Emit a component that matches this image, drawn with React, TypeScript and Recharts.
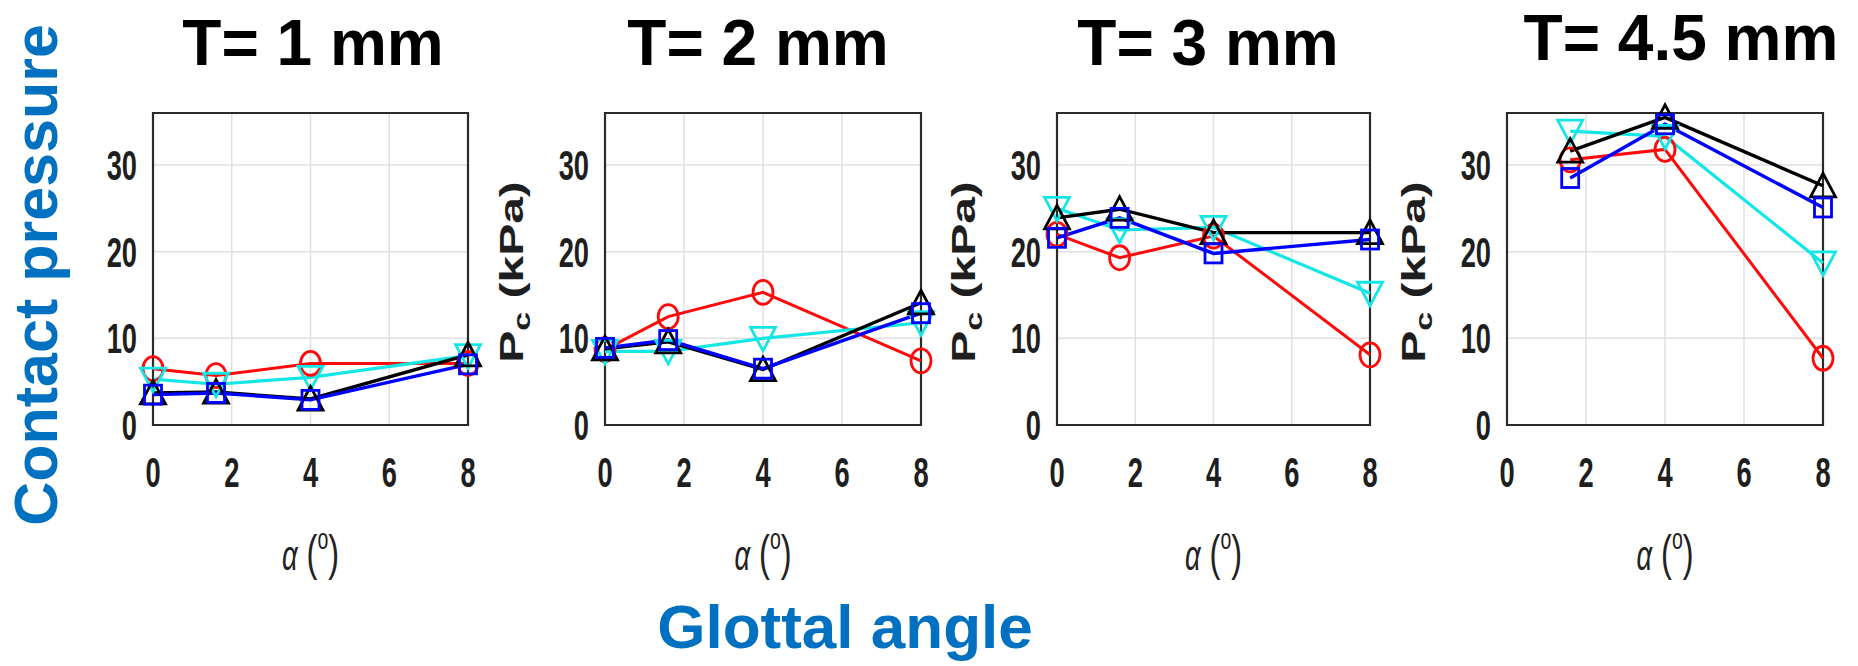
import React from "react"
import { LineChart, Line, XAxis, YAxis, CartesianGrid, ReferenceArea } from "recharts"

// glottal angle alpha (deg)
const alphaAll = [0, 1.6, 4, 8]
const alphaT45 = [1.6, 4, 8]
const titles = ["T= 1 mm", "T= 2 mm", "T= 3 mm", "T= 4.5 mm"]
const xTicks = [0, 2, 4, 6, 8]
const yTicks = [0, 10, 20, 30]

// contact pressure Pc (kPa)
const redT1 = [6.5, 5.7, 7.1, 7.1]
const cyanT1 = [5.3, 4.7, 5.5, 8.0]
const blueT1 = [3.5, 3.7, 2.9, 7.0]
const blackT1 = [3.7, 3.8, 3.0, 8.1]

const redT2 = [8.7, 12.5, 15.3, 7.4]
const cyanT2 = [8.5, 8.5, 10.0, 11.8]
const blueT2 = [8.9, 9.8, 6.5, 12.9]
const blackT2 = [8.8, 9.6, 6.4, 14.1]

const redT3 = [22.0, 19.3, 21.8, 8.1]
const cyanT3 = [25.0, 22.5, 22.8, 15.2]
const blueT3 = [21.6, 23.9, 19.8, 21.4]
const blackT3 = [23.9, 24.9, 22.2, 22.2]

const redT45 = [30.6, 31.8, 7.7]
const cyanT45 = [33.9, 33.3, 18.7]
const blueT45 = [28.5, 34.7, 25.1]
const blackT45 = [31.6, 35.5, 27.6]

const FONT = "'Liberation Sans', Arial, sans-serif"
const BLUE_TXT = "#0070C0"
const PT = 20      // plot top inside chart
const PH = 312     // plot height
const YW = 130     // y axis width
const SQ = 0.65    // horizontal squeeze of the original figure

const panels = [
  { title: titles[0], xs: alphaAll, red: redT1, cyan: cyanT1, blue: blueT1, black: blackT1, left: 153, width: 315, pc: false, titleX: 313, titleY: 65 },
  { title: titles[1], xs: alphaAll, red: redT2, cyan: cyanT2, blue: blueT2, black: blackT2, left: 605, width: 316, pc: true, titleX: 758, titleY: 65 },
  { title: titles[2], xs: alphaAll, red: redT3, cyan: cyanT3, blue: blueT3, black: blackT3, left: 1057, width: 313, pc: true, titleX: 1208, titleY: 65 },
  { title: titles[3], xs: alphaT45, red: redT45, cyan: cyanT45, blue: blueT45, black: blackT45, left: 1507, width: 316, pc: true, titleX: 1681, titleY: 60 },
]

const circleDot = (color: string) => (p: any) => (
  <ellipse key={`c-${p.index}`} cx={p.cx} cy={p.cy} rx={10} ry={12} fill="none" stroke={color} strokeWidth={2.8} />
)
const squareDot = (color: string) => (p: any) => (
  <rect key={`s-${p.index}`} x={p.cx - 8.5} y={p.cy - 9.5} width={17} height={19} fill="none" stroke={color} strokeWidth={2.8} />
)
const upDot = (color: string) => (p: any) => (
  <polygon key={`u-${p.index}`} points={`${p.cx},${p.cy - 12.5} ${p.cx - 12.5},${p.cy + 11} ${p.cx + 12.5},${p.cy + 11}`} fill="none" stroke={color} strokeWidth={2.8} />
)
const downDot = (color: string) => (p: any) => (
  <polygon key={`d-${p.index}`} points={`${p.cx},${p.cy + 12.5} ${p.cx - 12.5},${p.cy - 11} ${p.cx + 12.5},${p.cy - 11}`} fill="none" stroke={color} strokeWidth={2.8} />
)

const XTick = (p: any) => (
  <text transform={`translate(${p.x},${PT + PH + 62}) scale(${SQ},1)`} textAnchor="middle"
    fontFamily={FONT} fontWeight="bold" fontSize={42} fill="#1e1e1e">{p.payload.value}</text>
)
const YTick = (p: any) => (
  <text transform={`translate(${YW - 16},${p.y + 15}) scale(${SQ},1)`} textAnchor="end"
    fontFamily={FONT} fontWeight="bold" fontSize={42} fill="#1e1e1e">{p.payload.value}</text>
)

const AlphaLabel = (p: any) => {
  const vb = p.viewBox
  const cx = vb.x + vb.width / 2
  return (
    <text transform={`translate(${cx},${PT + PH + 145}) scale(${SQ},1)`} textAnchor="middle"
      fontFamily={FONT} fontSize={50} fill="#222">
      <tspan fontStyle="italic" fontSize={42}>α</tspan>
      <tspan> (</tspan>
      <tspan fontSize={30} dy={-21}>o</tspan>
      <tspan dy={21}>)</tspan>
    </text>
  )
}

const PcLabel = () => {
  const cy = PT + PH / 2 + 3
  return (
    <text transform={`translate(${YW - 82},${cy}) scale(0.68,1) rotate(-90)`} textAnchor="middle"
      fontFamily={FONT} fontWeight="bold" fontSize={48} fill="#1e1e1e">
      P<tspan fontSize={34} dy={10}>c</tspan><tspan dy={-10}>{"  (kPa)"}</tspan>
    </text>
  )
}

function Panel({ panel }: { panel: typeof panels[number] }) {
  const data = panel.xs.map((a, i) => ({
    alpha: a,
    red: panel.red[i],
    cyan: panel.cyan[i],
    blue: panel.blue[i],
    black: panel.black[i],
  }))
  const W = panel.width + YW + 20
  const H = PT + PH + 170
  return (
    <div style={{ position: "absolute", left: panel.left - YW, top: 113 - PT }}>
      <LineChart width={W} height={H} data={data} margin={{ top: PT, right: 20, bottom: 0, left: 0 }}>
        <CartesianGrid stroke="#e0e0e0" strokeWidth={1.5} />
        <XAxis dataKey="alpha" type="number" domain={[0, 8]} ticks={xTicks} interval={0}
          axisLine={false} tickLine={false} height={170} tick={XTick} label={{ content: AlphaLabel }} />
        <YAxis type="number" domain={[0, 36]} ticks={yTicks} interval={0} width={YW}
          axisLine={false} tickLine={false} tick={YTick}
          label={panel.pc ? { content: PcLabel } : undefined} />
        <ReferenceArea x1={0} x2={8} y1={0} y2={36} fill="none" fillOpacity={0} stroke="#2b2b2b" strokeWidth={2.2} />
        <Line dataKey="red" stroke="#ff0a0a" strokeWidth={3} dot={circleDot("#ff0a0a")} isAnimationActive={false} />
        <Line dataKey="cyan" stroke="#14e6e6" strokeWidth={3.2} dot={downDot("#14e6e6")} isAnimationActive={false} />
        <Line dataKey="black" stroke="#000" strokeWidth={3.4} dot={upDot("#000")} isAnimationActive={false} />
        <Line dataKey="blue" stroke="#0000ff" strokeWidth={3.4} dot={squareDot("#0000ff")} isAnimationActive={false} />
      </LineChart>
    </div>
  )
}

export default function App() {
  return (
    <div style={{ position: "relative", width: 1858, height: 666, background: "#fff", overflow: "hidden" }}>
      <style>{"body{margin:0}"}</style>
      {panels.map((p, i) => <Panel key={i} panel={p} />)}
      <svg width={1858} height={666} style={{ position: "absolute", left: 0, top: 0, pointerEvents: "none" }}>
        {panels.map((p, i) => (
          <text key={i} x={p.titleX} y={p.titleY} textAnchor="middle" fontFamily={FONT}
            fontWeight="bold" fontSize={64} fill="#000">{p.title}</text>
        ))}
        <text transform="translate(57,275) rotate(-90)" textAnchor="middle" fontFamily={FONT}
          fontWeight="bold" fontSize={61} fill={BLUE_TXT}>Contact pressure</text>
        <text x={845} y={648} textAnchor="middle" fontFamily={FONT}
          fontWeight="bold" fontSize={62} fill={BLUE_TXT}>Glottal angle</text>
      </svg>
    </div>
  )
}
